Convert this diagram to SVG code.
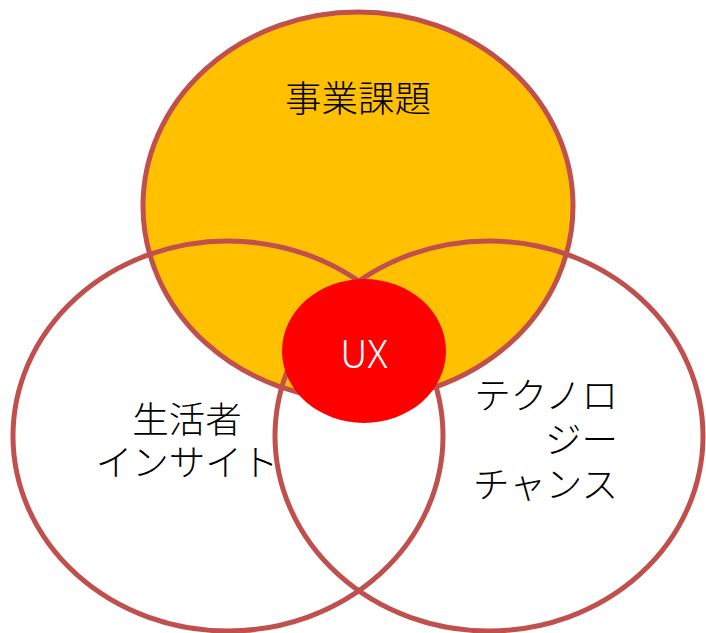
<svg xmlns="http://www.w3.org/2000/svg" width="706" height="633" viewBox="0 0 706 633">
  <style>
    .ring { stroke: #C0504D; stroke-width: 5; }
    .lbl { font-family: "Noto Sans CJK JP", "Noto Sans", sans-serif; font-size: 36.5px; font-weight: 300; fill: #000000; }
    .ux { font-family: "Noto Sans CJK JP", "Noto Sans", sans-serif; font-size: 39px; font-weight: 300; fill: #FFFFFF; }
  </style>
  <rect width="706" height="633" fill="#FFFFFF"/>
  <g id="business">
    <ellipse class="ring" cx="358" cy="206" rx="215" ry="194" fill="#FFC000"/>
    <text class="lbl" x="358" y="112" text-anchor="middle">事業課題</text>
  </g>
  <g id="consumer">
    <ellipse class="ring" cx="228" cy="436" rx="215" ry="195" fill="none"/>
    <text class="lbl" text-anchor="middle"><tspan x="187" y="433">生活者</tspan><tspan x="187" y="476">インサイト</tspan></text>
  </g>
  <g id="technology">
    <ellipse class="ring" cx="489" cy="436" rx="214" ry="195" fill="none"/>
    <text class="lbl" text-anchor="end"><tspan x="618" y="409">テクノロ</tspan><tspan x="618" y="453">ジー</tspan><tspan x="618" y="498">チャンス</tspan></text>
  </g>
  <g id="ux">
    <ellipse cx="364" cy="351" rx="82" ry="72" fill="#FF0000"/>
    <text class="ux" x="364" y="368" text-anchor="middle">UX</text>
  </g>
</svg>
